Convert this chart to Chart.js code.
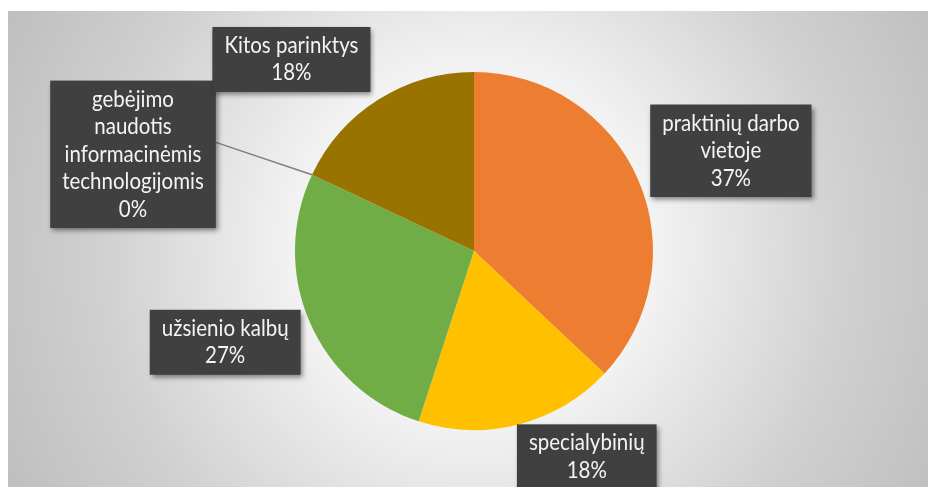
<!DOCTYPE html>
<html lang="lt">
<head>
<meta charset="utf-8">
<title>Pasirinkimai</title>
<script src="https://cdn.jsdelivr.net/npm/chart.js@4.4.1/dist/chart.umd.min.js"></script>
<style>
  html, body { margin: 0; padding: 0; background: #ffffff; }
  #wrap { position: relative; width: 928px; height: 487px; }
</style>
</head>
<body>
<div id="wrap"><canvas id="c" width="928" height="487"></canvas></div>
<script>
// Categories (label lines) and their shares in percent
const categories = [
  ['praktinių darbo', 'vietoje'],
  ['specialybinių'],
  ['užsienio kalbų'],
  ['gebėjimo', 'naudotis', 'informacinėmis', 'technologijomis'],
  ['Kitos parinktys']
];
const values = [37, 18, 27, 0, 18];
const sliceColors = ['#ED7D31', '#FFC000', '#70AD47', '#4472C4', '#997300'];

// Where each label box sits, relative to the pie centre, in pie radii
const labelLayout = [
  { dx: 1.435, dy: -0.56 },
  { dx: 0.63, dy: 1.15 },
  { dx: -1.39, dy: 0.51 },
  { dx: -1.905, dy: -0.54, leader: true },
  { dx: -1.02, dy: -1.07 }
];

const FONT = '20.5px Lato, "Open Sans", sans-serif';
const LINE_H = 27.5;
const TEXT_STRETCH = 1.1;
const PAD_X = 8;

const backgroundPlugin = {
  id: 'panelBackground',
  beforeDraw(chart) {
    const ctx = chart.ctx;
    const x0 = 8, y0 = 11, w = chart.width - x0, h = chart.height - y0;
    const cx = (chart.chartArea.left + chart.chartArea.right) / 2;
    const cy = (chart.chartArea.top + chart.chartArea.bottom) / 2;
    const g = ctx.createRadialGradient(cx, cy - 10, 0, cx, cy, 520);
    g.addColorStop(0, '#ffffff');
    g.addColorStop(0.35, '#f2f2f2');
    g.addColorStop(0.72, '#d0d0d0');
    g.addColorStop(1, '#bfbfbf');
    ctx.save();
    ctx.fillStyle = g;
    ctx.fillRect(x0, y0, w, h);
    ctx.restore();
  }
};

const labelPlugin = {
  id: 'boxLabels',
  afterDatasetsDraw(chart) {
    const ctx = chart.ctx;
    const meta = chart.getDatasetMeta(0);
    const total = values.reduce((a, b) => a + b, 0);
    ctx.save();
    ctx.font = FONT;
    meta.data.forEach((arc, i) => {
      const p = arc.getProps(['x', 'y', 'outerRadius', 'startAngle', 'endAngle'], true);
      const r = p.outerRadius;
      const lines = categories[i].concat([Math.round(values[i] / total * 100) + '%']);
      const lay = labelLayout[i];
      const bx = p.x + lay.dx * r, by = p.y + lay.dy * r;
      let tw = 0;
      lines.forEach(t => { tw = Math.max(tw, ctx.measureText(t).width); });
      const bw = tw + 2 * PAD_X + 8, bh = lines.length * LINE_H + 10;
      const left = bx - bw / 2, top = by - bh / 2;

      if (lay.leader) {
        const a = (p.startAngle + p.endAngle) / 2;
        ctx.strokeStyle = '#7f7f7f';
        ctx.lineWidth = 1.5;
        ctx.beginPath();
        ctx.moveTo(left + bw, by - 12);
        ctx.lineTo(p.x + Math.cos(a) * r, p.y + Math.sin(a) * r);
        ctx.stroke();
      }

      ctx.save();
      ctx.shadowColor = 'rgba(0,0,0,0.45)';
      ctx.shadowBlur = 5;
      ctx.shadowOffsetX = 2;
      ctx.shadowOffsetY = 3;
      ctx.fillStyle = '#404040';
      ctx.fillRect(left, top, bw, bh);
      ctx.restore();

      ctx.fillStyle = '#f4f4f4';
      ctx.textAlign = 'center';
      ctx.textBaseline = 'middle';
      lines.forEach((t, k) => {
        const ty = top + 5 + LINE_H * (k + 0.5);
        ctx.save();
        ctx.translate(bx, ty);
        ctx.scale(1, TEXT_STRETCH);
        ctx.fillText(t, 0, 0);
        ctx.restore();
      });
    });
    ctx.restore();
  }
};

new Chart(document.getElementById('c'), {
  type: 'pie',
  data: {
    labels: categories.map(l => l.join(' ')),
    datasets: [{
      data: values,
      backgroundColor: sliceColors,
      borderWidth: 0
    }]
  },
  options: {
    responsive: false,
    animation: false,
    layout: { padding: { top: 72, bottom: 57, left: 295, right: 275 } },
    plugins: {
      legend: { display: false },
      tooltip: { enabled: false }
    }
  },
  plugins: [backgroundPlugin, labelPlugin]
});
</script>
</body>
</html>
